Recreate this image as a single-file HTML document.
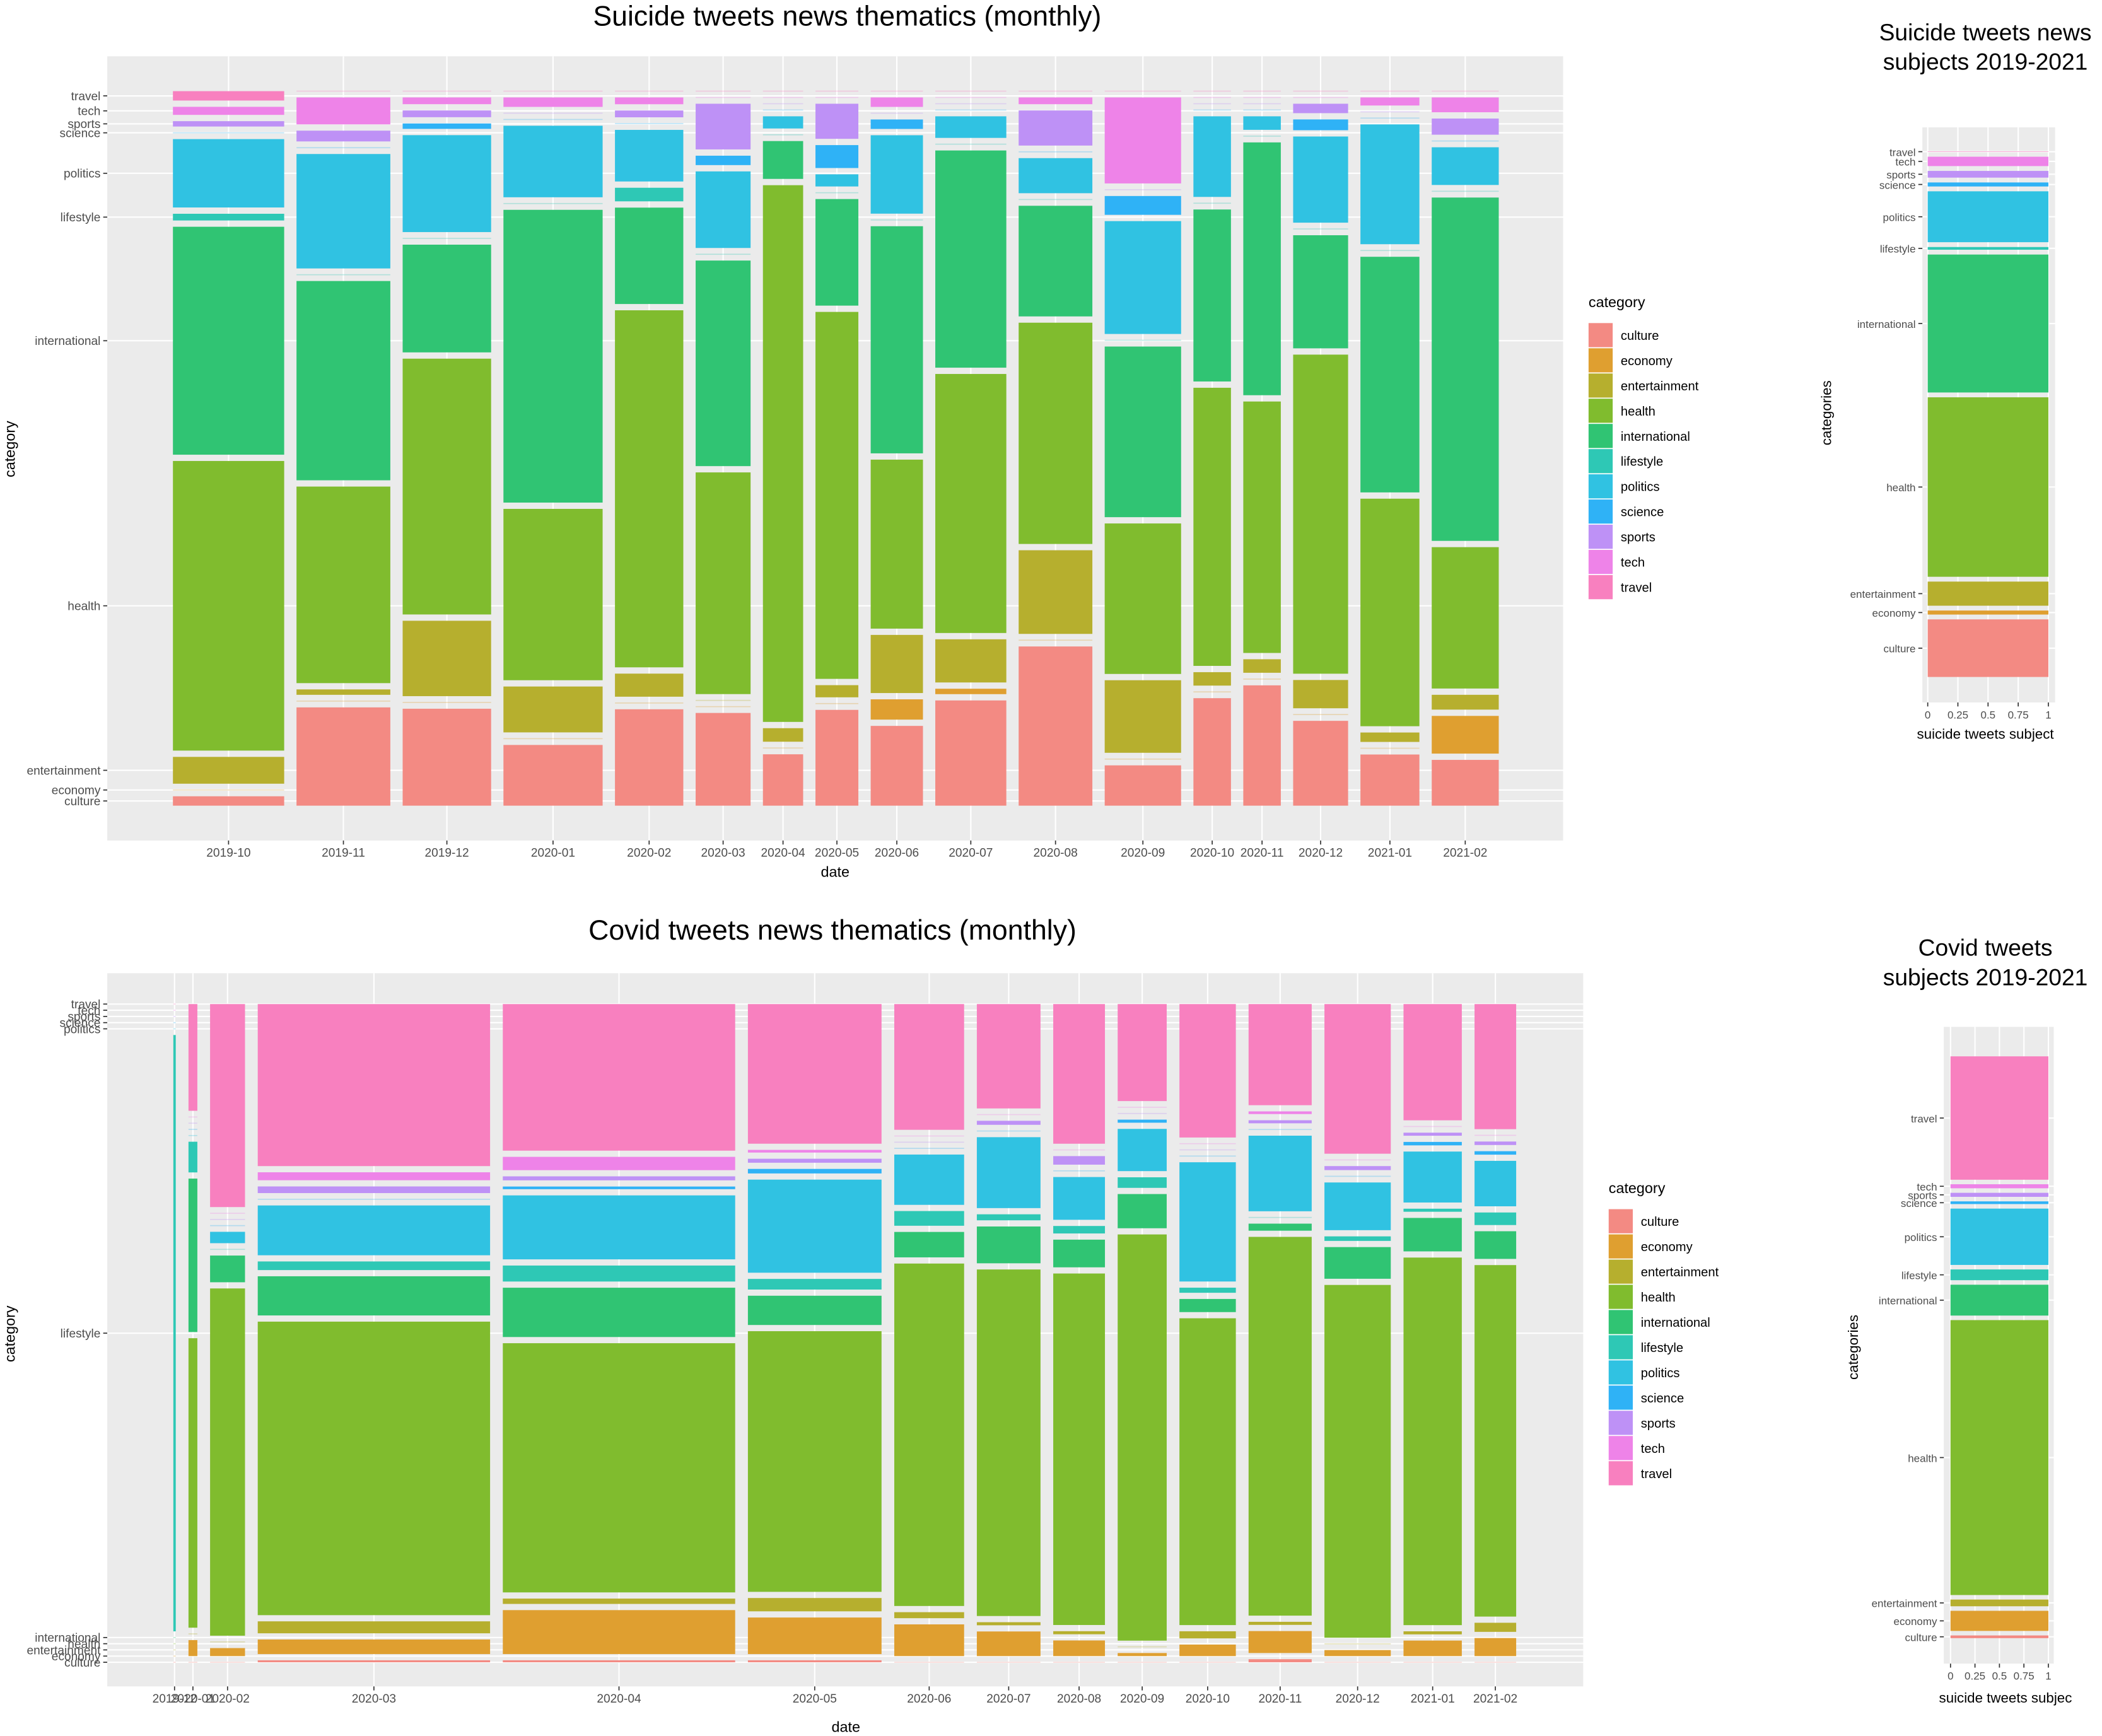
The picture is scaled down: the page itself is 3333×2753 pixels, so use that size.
<!DOCTYPE html>
<html><head><meta charset="utf-8">
<style>
html,body{margin:0;padding:0;background:#fff;}
svg{display:block;}
text{font-family:"Liberation Sans",sans-serif;}
</style></head>
<body>
<svg id="root" xmlns="http://www.w3.org/2000/svg" width="3333" height="2753" viewBox="0 0 1568 1295" preserveAspectRatio="none">
<rect x="0" y="0" width="1568" height="1295" fill="#ffffff"/>
</svg>
<script>
// ---------- DATA ----------
const categories = ["culture","economy","entertainment","health","international","lifestyle","politics","science","sports","tech","travel"];
const colors = ["#F38A83","#DF9F30","#B6AF2E","#80BC2E","#30C473","#2EC8B5","#30C2E2","#2FB2F6","#BE91F6","#EE83E8","#F880BF"];

const suicideMonths = ["2019-10","2019-11","2019-12","2020-01","2020-02","2020-03","2020-04","2020-05","2020-06","2020-07","2020-08","2020-09","2020-10","2020-11","2020-12","2021-01","2021-02"];
const suicideTotals = [83,70,66,74,51,41,30,32,39,53,55,57,28,28,41,44,50];
const suicideCounts = [
 [7,0,20,216,170,5,51,0,4,6,7],
 [73,0,4,146,148,0,85,0,8,20,0],
 [72,0,56,190,80,0,72,4,5,5,0],
 [45,0,34,127,217,0,53,0,0,7,0],
 [71,0,17,263,71,10,38,0,5,5,0],
 [69,0,0,165,153,0,57,7,34,0,0],
 [38,0,10,397,28,0,9,0,0,0,0],
 [71,0,9,272,79,0,9,17,26,0,0],
 [59,15,43,125,168,0,58,7,0,7,0],
 [78,4,32,192,161,0,16,0,0,0,0],
 [118,0,62,164,82,0,26,0,26,5,0],
 [30,0,54,112,127,0,84,14,0,64,0],
 [80,0,10,207,128,0,60,0,0,0,0],
 [89,0,10,186,187,0,10,0,0,0,0],
 [63,0,21,237,84,0,64,8,7,0,0],
 [38,0,7,169,175,0,89,0,0,6,0],
 [34,28,11,105,255,0,28,0,12,11,0]
];

const covidMonths = ["2019-12","2020-01","2020-02","2020-03","2020-04","2020-05","2020-06","2020-07","2020-08","2020-09","2020-10","2020-11","2020-12","2021-01","2021-02"];
const covidTotals = [1.8,6.6,26,173,173,99.5,52,47.4,38.5,36.5,42,47,49.4,43.4,31];
const covidCounts = [
 [0,0,0,0,0,1,0,0,0,0,0],
 [0,12,0,217,115,23,0,0,0,0,80],
 [0,6,0,260,20,0,8.5,0,0,0,152],
 [1.5,11,9,221,29.5,6.5,37.5,0,5,6,122],
 [1.5,33,4,187,37,12,48,2,3,10,110],
 [1.5,27.5,10,196,22,8,70,3.4,3,2,105],
 [0,23.7,4.5,256,19,11,37.6,0,0,0,94],
 [0,18.4,2.3,259,27.5,4.5,53,0,3,0,78],
 [0,11.7,2.3,263,20.7,5.6,32,0,6.4,0,104.5],
 [0,2.3,0,304,25.6,7.9,31.6,2.3,0,0,72.6],
 [0,8.6,5.3,229,9.8,3.8,89,0,0,0,99.6],
 [2.3,16.5,2.3,284.6,5.3,0,56.8,0,2.3,2,76],
 [0,4.5,0,264,23.7,3.4,35.7,0,3,0,112],
 [0,11.7,2.3,277,25.2,2.3,38.4,2.6,2.3,0,87.6],
 [0,13.5,6.8,263,20.7,9.4,34,2.6,2.6,0,93.6]
];

const suicideOverall = [43,3,18,134,103,2,38,3,5,7,0.3];
const covidOverall = [2,15,5,205,23,8,42,2,3,3,92];
const proportionTicks = [0,0.25,0.5,0.75,1];
const proportionTickLabels = ["0","0.25","0.5","0.75","1"];

// ---------- HELPERS ----------
const NS = "http://www.w3.org/2000/svg";
const root = document.getElementById("root");
function mk(tag, attrs, parent){
  const e = document.createElementNS(NS, tag);
  for (const k in attrs) e.setAttribute(k, attrs[k]);
  (parent||root).appendChild(e);
  return e;
}
function txt(s, attrs, parent){
  const e = mk("text", attrs, parent);
  e.textContent = s;
  return e;
}
function makeXScale(weights, x0, x1, gap){
  const W = weights.reduce((a,b)=>a+b,0);
  const usable = (x1-x0) - gap*(weights.length-1);
  const out = []; let x = x0;
  weights.forEach(w=>{ const width = w/W*usable; out.push([x, width]); x += width+gap; });
  return out;
}
function makeYStack(values, yTop, yBot, gapFrac){
  const H = yBot-yTop, gap = H*gapFrac;
  const sum = values.reduce((a,b)=>a+b,0);
  const avail = H - gap*(values.length-1);
  const out = []; let y = yBot;
  values.forEach(v=>{ const h = v/sum*avail; out.push([y-h, h]); y -= h+gap; });
  return out;
}

function drawMosaic(cfg){
  const g = mk("g", {});
  
  
  const bg = mk("rect", {x:cfg.bgX0, y:cfg.bgY0, width:cfg.bgX1-cfg.bgX0, height:cfg.bgY1-cfg.bgY0, fill:"#EBEBEB"}, g);
  
  
  const xs = makeXScale(cfg.totals, cfg.x0, cfg.x1, cfg.gapX);
  const firstStack = makeYStack(cfg.counts[0], cfg.yTop, cfg.yBot, cfg.gapFrac);
  const yMids = firstStack.map(s=>s[0]+s[1]/2);
  // gridlines (behind marks)
  yMids.forEach(y=>{ mk("line",{x1:cfg.bgX0,x2:cfg.bgX1,y1:y,y2:y,stroke:"#fff","stroke-width":1},g); });
  if (cfg.xTicks){
    cfg.xTicks.forEach(v=>{ const x = cfg.x0 + v*(cfg.x1-cfg.x0); mk("line",{x1:x,x2:x,y1:cfg.bgY0,y2:cfg.bgY1,stroke:"#fff","stroke-width":1},g); });
  } else {
    xs.forEach(c=>{ const cx=c[0]+c[1]/2; mk("line",{x1:cx,x2:cx,y1:cfg.bgY0,y2:cfg.bgY1,stroke:"#fff","stroke-width":1},g); });
  }
  // marks
  cfg.counts.forEach((vals,j)=>{
    const st = makeYStack(vals, cfg.yTop, cfg.yBot, cfg.gapFrac);
    vals.forEach((v,i)=>{
      let r;
      if (v>0){
        r = mk("rect",{x:xs[j][0], y:st[i][0], width:xs[j][1], height:st[i][1], fill:colors[i]}, g);
      } else {
        r = mk("rect",{x:xs[j][0], y:st[i][0]-0.4, width:xs[j][1], height:0.8, fill:colors[i], opacity:0.3}, g);
      }
      
      
    });
  });
  // y ticks and labels
  yMids.forEach((y,i)=>{
    mk("line",{x1:cfg.bgX0-3,x2:cfg.bgX0,y1:y,y2:y,stroke:"#333","stroke-width":0.8},g);
    const t = txt(categories[i],{x:cfg.bgX0-5,y:y+3.2,"font-size":cfg.tickSize,"text-anchor":"end",fill:"#4D4D4D"},g);
    
    
  });
  // x ticks and labels
  if (cfg.xTicks){
    cfg.xTicks.forEach((v,k)=>{
      const x = cfg.x0 + v*(cfg.x1-cfg.x0);
      mk("line",{x1:x,x2:x,y1:cfg.bgY1,y2:cfg.bgY1+3,stroke:"#333","stroke-width":0.8},g);
      const t = txt(cfg.xTickLabels[k],{x:x,y:cfg.bgY1+12,"font-size":cfg.tickSize,"text-anchor":"middle",fill:"#4D4D4D"},g);
      
      
    });
  } else {
    xs.forEach((c,j)=>{
      const cx=c[0]+c[1]/2;
      mk("line",{x1:cx,x2:cx,y1:cfg.bgY1,y2:cfg.bgY1+3,stroke:"#333","stroke-width":0.8},g);
      const t = txt(cfg.labels[j],{x:cx,y:cfg.bgY1+12,"font-size":cfg.tickSize,"text-anchor":"middle",fill:"#4D4D4D"},g);
      
      
    });
  }
}

function legend(x, y, name){
  const g = mk("g",{});
  
  
  txt("category",{x:x,y:y,"font-size":11,fill:"#000"},g);
  categories.forEach((c,i)=>{
    const yy = y+12+i*18.8;
    const r = mk("rect",{x:x,y:yy,width:18,height:18,fill:colors[i]},g);
    
    
    const t = txt(c,{x:x+24,y:yy+12.5,"font-size":9.5,fill:"#000"},g);
    
    
  });
}

// ---------- TOP MAIN ----------
drawMosaic({name:"suicide-monthly-mosaic", bgX0:80,bgX1:1166,bgY0:42,bgY1:627,
  x0:129,x1:1118,gapX:9.2,yTop:68,yBot:601,gapFrac:0.0088,
  totals:suicideTotals, counts:suicideCounts, labels:suicideMonths, tickSize:9});
let t;
t = txt("Suicide tweets news thematics (monthly)",{x:632,y:19,"font-size":21,"text-anchor":"middle",fill:"#000"});
 
t = txt("date",{x:623,y:654,"font-size":11,"text-anchor":"middle",fill:"#000"});
 
t = txt("category",{x:0,y:0,"font-size":11,"text-anchor":"middle",fill:"#000",transform:"translate(11,335) rotate(-90)"});
 
legend(1185, 229, "legend-top");

// ---------- BOTTOM MAIN ----------
drawMosaic({name:"covid-monthly-mosaic", bgX0:80,bgX1:1181,bgY0:726,bgY1:1258,
  x0:129.3,x1:1131,gapX:9.5,yTop:749,yBot:1240,gapFrac:0.0094,
  totals:covidTotals, counts:covidCounts, labels:covidMonths, tickSize:9});
t = txt("Covid tweets news thematics (monthly)",{x:621,y:701,"font-size":21,"text-anchor":"middle",fill:"#000"});
 
t = txt("date",{x:631,y:1292,"font-size":11,"text-anchor":"middle",fill:"#000"});
 
t = txt("category",{x:0,y:0,"font-size":11,"text-anchor":"middle",fill:"#000",transform:"translate(11,995) rotate(-90)"});
 
legend(1200, 890, "legend-bottom");

// ---------- SMALL PANELS ----------
drawMosaic({name:"suicide-overall-mosaic", bgX0:1434,bgX1:1533,bgY0:95,bgY1:524,
  x0:1438,x1:1528,gapX:0,yTop:113,yBot:505,gapFrac:0.0092,
  totals:[1], counts:[suicideOverall], labels:["all"], tickSize:8,
  xTicks:proportionTicks, xTickLabels:proportionTickLabels});
t = txt("Suicide tweets news",{x:1481,y:30,"font-size":17.5,"text-anchor":"middle",fill:"#000"});
 
t = txt("subjects 2019-2021",{x:1481,y:52,"font-size":17.5,"text-anchor":"middle",fill:"#000"});
 
t = txt("suicide tweets subject",{x:1481,y:551,"font-size":10.5,"text-anchor":"middle",fill:"#000"});
 
t = txt("categories",{x:0,y:0,"font-size":10.5,"text-anchor":"middle",fill:"#000",transform:"translate(1366,308) rotate(-90)"});
 

drawMosaic({name:"covid-overall-mosaic", bgX0:1450,bgX1:1532,bgY0:766,bgY1:1241,
  x0:1455,x1:1528,gapX:0,yTop:788,yBot:1222,gapFrac:0.0078,
  totals:[1], counts:[covidOverall], labels:["all"], tickSize:8,
  xTicks:proportionTicks, xTickLabels:proportionTickLabels});
t = txt("Covid tweets",{x:1481,y:713,"font-size":17.5,"text-anchor":"middle",fill:"#000"});
 
t = txt("subjects 2019-2021",{x:1481,y:735,"font-size":17.5,"text-anchor":"middle",fill:"#000"});
 
t = txt("suicide tweets subjec",{x:1496,y:1270,"font-size":10.5,"text-anchor":"middle",fill:"#000"});
 
t = txt("categories",{x:0,y:0,"font-size":10.5,"text-anchor":"middle",fill:"#000",transform:"translate(1386,1005) rotate(-90)"});
 
</script>
</body></html>
